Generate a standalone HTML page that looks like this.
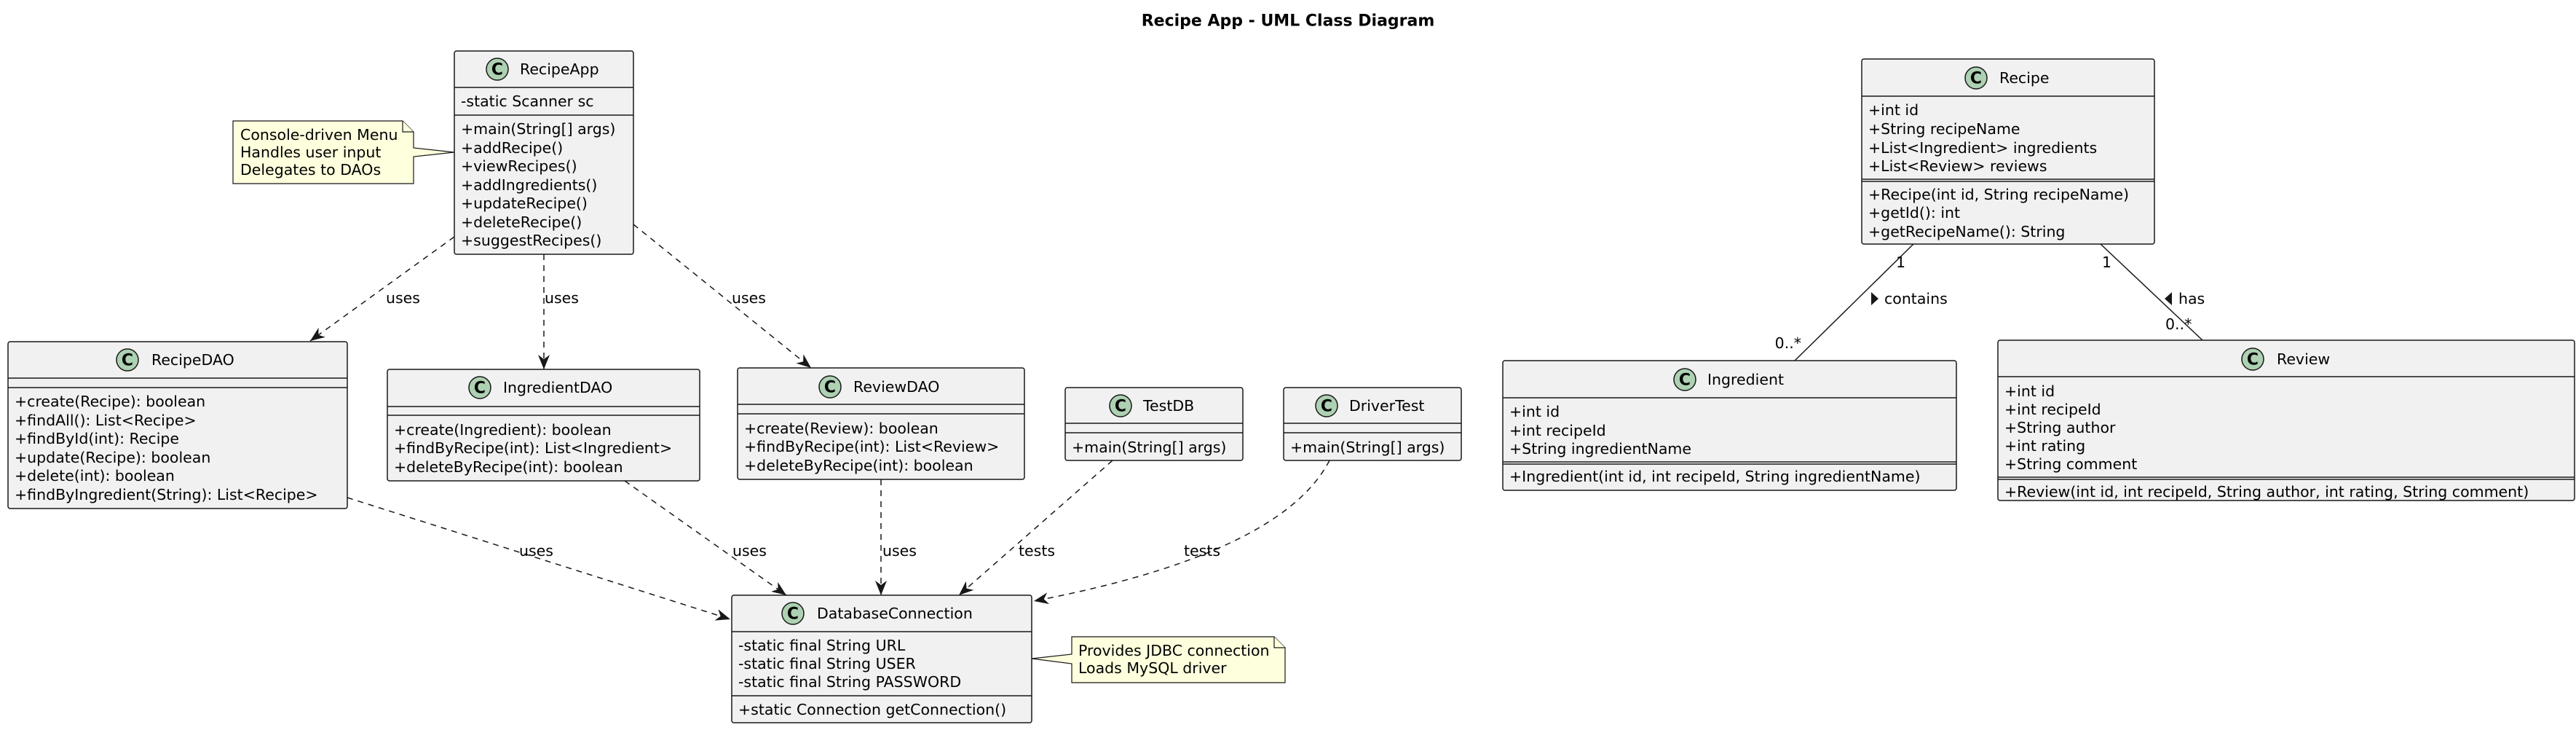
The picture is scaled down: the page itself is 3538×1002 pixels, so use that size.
<!DOCTYPE html>
<html><head><meta charset="utf-8"><style>
html,body{margin:0;padding:0;background:#fff;}
svg{display:block;}
text{font-family:"DejaVu Sans","Liberation Sans",sans-serif;font-size:20.5px;fill:#000;dominant-baseline:central;}
.box{fill:#F1F1F1;stroke:#181818;stroke-width:1.5;}
.sep{stroke:#181818;stroke-width:1.5;}
.dash{fill:none;stroke:#181818;stroke-width:1.5;stroke-dasharray:8,7;}
.solid{fill:none;stroke:#181818;stroke-width:1.5;}
.ic{fill:#ADD1B2;stroke:#181818;stroke-width:1.5;}
.icl{font-weight:bold;font-size:22px;text-anchor:middle;}
.note{fill:#FEFFDD;stroke:#181818;stroke-width:1.2;}
</style></head><body>
<svg width="3538" height="1002" viewBox="0 0 3538 1002" xmlns="http://www.w3.org/2000/svg">
<defs>
<marker id="ah" markerWidth="20" markerHeight="16" refX="20" refY="8" orient="auto" markerUnits="userSpaceOnUse">
<path d="M0,0 L20,8 L0,16 L6,8 z" fill="#181818"/>
</marker>
</defs>

<text x="1769" y="29" style="font-weight:bold;font-size:22px;text-anchor:middle">Recipe App - UML Class Diagram</text>

<path class="dash" d="M624,325 L426,468" marker-end="url(#ah)"/>
<text x="530" y="409">uses</text>
<path class="dash" d="M747,349 L747,507" marker-end="url(#ah)"/>
<text x="748" y="409">uses</text>
<path class="dash" d="M870,308 L1114,505" marker-end="url(#ah)"/>
<text x="1005" y="409">uses</text>

<path class="dash" d="M477,683 L1003,850" marker-end="url(#ah)"/>
<text x="713" y="756">uses</text>
<path class="dash" d="M858,660 L1080,817" marker-end="url(#ah)"/>
<text x="1006" y="756">uses</text>
<path class="dash" d="M1210,658 L1210,817" marker-end="url(#ah)"/>
<text x="1212" y="756">uses</text>
<path class="dash" d="M1528,632 L1317,817" marker-end="url(#ah)"/>
<text x="1399" y="756">tests</text>
<path class="dash" d="M1826,632 Q1760,760 1420,825" marker-end="url(#ah)"/>
<text x="1626" y="756">tests</text>

<path class="solid" d="M2628,335 L2465,495"/>
<text x="2604" y="360">1</text>
<text x="2474" y="471" style="text-anchor:end">0..*</text>
<path d="M2570,401 L2580,410 L2570,419 z" fill="#181818"/>
<text x="2588" y="410">contains</text>
<path class="solid" d="M2885,335 L3025,467"/>
<text x="2887" y="360">1</text>
<text x="2974" y="445">0..*</text>
<path d="M2983,401 L2973,410 L2983,419 z" fill="#181818"/>
<text x="2992" y="410">has</text>

<path class="note" d="M320,166 L553,166 L568,181 L568,203 L624,209 L568,215 L568,252 L320,252 z"/>
<path class="note" d="M553,166 L553,181 L568,181" />
<text x="330" y="185">Console-driven Menu</text>
<text x="330" y="209">Handles user input</text>
<text x="330" y="233">Delegates to DAOs</text>

<path class="note" d="M1472,874 L1750,874 L1765,889 L1765,937 L1472,937 L1472,911 L1417,904 L1472,898 z"/>
<path class="note" d="M1750,874 L1750,889 L1765,889"/>
<text x="1481" y="893">Provides JDBC connection</text>
<text x="1481" y="917">Loads MySQL driver</text>

<rect class="box" x="624" y="70" width="246" height="279" rx="3"/>
<circle class="ic" cx="683" cy="95" r="15"/><text class="icl" x="683" y="96">C</text>
<text x="714" y="95">RecipeApp</text>
<line class="sep" x1="624" y1="120" x2="870" y2="120"/>
<text x="633" y="139">-static Scanner sc</text>
<line class="sep" x1="624" y1="158" x2="870" y2="158"/>
<text x="633" y="177">+main(String[] args)</text>
<text x="633" y="203">+addRecipe()</text>
<text x="633" y="228">+viewRecipes()</text>
<text x="633" y="254">+addIngredients()</text>
<text x="633" y="279">+updateRecipe()</text>
<text x="633" y="305">+deleteRecipe()</text>
<text x="633" y="330">+suggestRecipes()</text>

<rect class="box" x="11" y="469" width="466" height="229" rx="3"/>
<circle class="ic" cx="175" cy="494" r="15"/><text class="icl" x="175" y="495">C</text>
<text x="208" y="494">RecipeDAO</text>
<line class="sep" x1="11" y1="519" x2="477" y2="519"/>
<line class="sep" x1="11" y1="532" x2="477" y2="532"/>
<text x="20" y="551">+create(Recipe): boolean</text>
<text x="20" y="577">+findAll(): List&lt;Recipe&gt;</text>
<text x="20" y="602">+findById(int): Recipe</text>
<text x="20" y="628">+update(Recipe): boolean</text>
<text x="20" y="653">+delete(int): boolean</text>
<text x="20" y="679">+findByIngredient(String): List&lt;Recipe&gt;</text>

<rect class="box" x="532" y="507" width="429" height="153" rx="3"/>
<circle class="ic" cx="659" cy="532" r="15"/><text class="icl" x="659" y="533">C</text>
<text x="691" y="532">IngredientDAO</text>
<line class="sep" x1="532" y1="558" x2="961" y2="558"/>
<line class="sep" x1="532" y1="570" x2="961" y2="570"/>
<text x="541" y="590">+create(Ingredient): boolean</text>
<text x="541" y="615">+findByRecipe(int): List&lt;Ingredient&gt;</text>
<text x="541" y="641">+deleteByRecipe(int): boolean</text>

<rect class="box" x="1013" y="505" width="394" height="153" rx="3"/>
<circle class="ic" cx="1140" cy="531" r="15"/><text class="icl" x="1140" y="532">C</text>
<text x="1172" y="531">ReviewDAO</text>
<line class="sep" x1="1013" y1="555" x2="1407" y2="555"/>
<line class="sep" x1="1013" y1="568" x2="1407" y2="568"/>
<text x="1022" y="588">+create(Review): boolean</text>
<text x="1022" y="613">+findByRecipe(int): List&lt;Review&gt;</text>
<text x="1022" y="639">+deleteByRecipe(int): boolean</text>

<rect class="box" x="1463" y="532" width="244" height="100" rx="3"/>
<circle class="ic" cx="1539" cy="557" r="15"/><text class="icl" x="1539" y="558">C</text>
<text x="1570" y="557">TestDB</text>
<line class="sep" x1="1463" y1="581" x2="1707" y2="581"/>
<line class="sep" x1="1463" y1="594" x2="1707" y2="594"/>
<text x="1472" y="614">+main(String[] args)</text>

<rect class="box" x="1763" y="532" width="244" height="100" rx="3"/>
<circle class="ic" cx="1822" cy="557" r="15"/><text class="icl" x="1822" y="558">C</text>
<text x="1853" y="557">DriverTest</text>
<line class="sep" x1="1763" y1="581" x2="2007" y2="581"/>
<line class="sep" x1="1763" y1="594" x2="2007" y2="594"/>
<text x="1772" y="614">+main(String[] args)</text>

<rect class="box" x="1005" y="817" width="412" height="175" rx="3"/>
<circle class="ic" cx="1089" cy="842" r="15"/><text class="icl" x="1089" y="843">C</text>
<text x="1122" y="842">DatabaseConnection</text>
<line class="sep" x1="1005" y1="867" x2="1417" y2="867"/>
<text x="1014" y="886">-static final String URL</text>
<text x="1014" y="911">-static final String USER</text>
<text x="1014" y="936">-static final String PASSWORD</text>
<line class="sep" x1="1005" y1="955" x2="1417" y2="955"/>
<text x="1014" y="974">+static Connection getConnection()</text>

<rect class="box" x="2557" y="81" width="402" height="254" rx="3"/>
<circle class="ic" cx="2714" cy="107" r="15"/><text class="icl" x="2714" y="108">C</text>
<text x="2746" y="107">Recipe</text>
<line class="sep" x1="2557" y1="132" x2="2959" y2="132"/>
<text x="2566" y="151">+int id</text>
<text x="2566" y="177">+String recipeName</text>
<text x="2566" y="203">+List&lt;Ingredient&gt; ingredients</text>
<text x="2566" y="228">+List&lt;Review&gt; reviews</text>
<line class="sep" x1="2557" y1="246" x2="2959" y2="246"/>
<line class="sep" x1="2557" y1="249" x2="2959" y2="249"/>
<text x="2566" y="267">+Recipe(int id, String recipeName)</text>
<text x="2566" y="292">+getId(): int</text>
<text x="2566" y="318">+getRecipeName(): String</text>

<rect class="box" x="2064" y="495" width="623" height="178" rx="3"/>
<circle class="ic" cx="2314" cy="521" r="15"/><text class="icl" x="2314" y="522">C</text>
<text x="2345" y="521">Ingredient</text>
<line class="sep" x1="2064" y1="546" x2="2687" y2="546"/>
<text x="2073" y="565">+int id</text>
<text x="2073" y="591">+int recipeId</text>
<text x="2073" y="616">+String ingredientName</text>
<line class="sep" x1="2064" y1="634" x2="2687" y2="634"/>
<line class="sep" x1="2064" y1="637" x2="2687" y2="637"/>
<text x="2073" y="654">+Ingredient(int id, int recipeId, String ingredientName)</text>

<rect class="box" x="2744" y="467" width="792" height="220" rx="3"/>
<circle class="ic" cx="3094" cy="493" r="15"/><text class="icl" x="3094" y="494">C</text>
<text x="3127" y="493">Review</text>
<line class="sep" x1="2744" y1="517" x2="3536" y2="517"/>
<text x="2753" y="537">+int id</text>
<text x="2753" y="562">+int recipeId</text>
<text x="2753" y="587">+String author</text>
<text x="2753" y="612">+int rating</text>
<text x="2753" y="637">+String comment</text>
<line class="sep" x1="2744" y1="655" x2="3536" y2="655"/>
<line class="sep" x1="2744" y1="658" x2="3536" y2="658"/>
<text x="2753" y="675">+Review(int id, int recipeId, String author, int rating, String comment)</text>
</svg>
</body></html>
